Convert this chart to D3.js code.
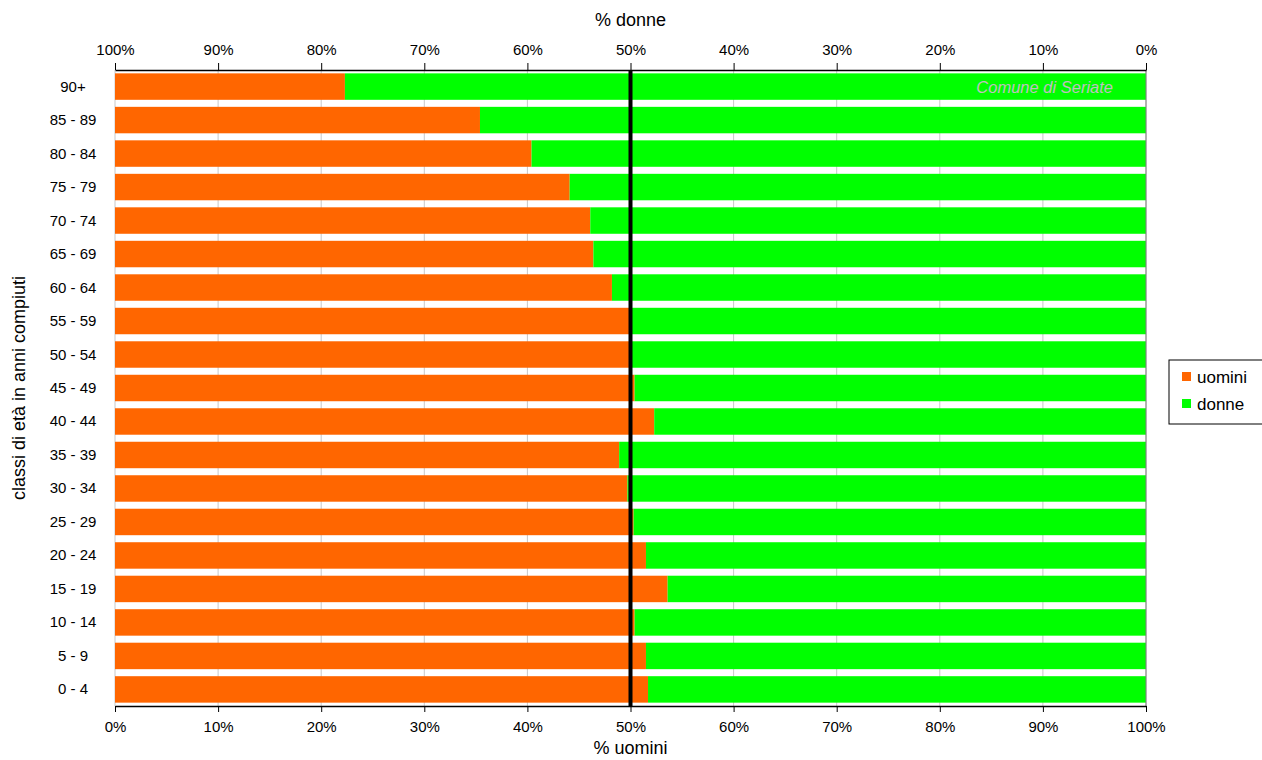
<!DOCTYPE html>
<html>
<head>
<meta charset="utf-8">
<script src="https://cdn.jsdelivr.net/npm/d3@7"></script>
<style>
  body { margin: 0; background: #fff; }
  text { font-family: "Liberation Sans", Arial, sans-serif; fill: #000; }
</style>
</head>
<body>
<div id="chart"></div>
<script>
// classi di età, dall'alto verso il basso
const classi = ["90+", "85 - 89", "80 - 84", "75 - 79", "70 - 74", "65 - 69", "60 - 64",
  "55 - 59", "50 - 54", "45 - 49", "40 - 44", "35 - 39", "30 - 34", "25 - 29",
  "20 - 24", "15 - 19", "10 - 14", "5 - 9", "0 - 4"];
// % uomini per classe (il resto sono donne)
const uomini = [22.3, 35.4, 40.4, 44.1, 46.1, 46.4, 48.2, 49.9, 49.9, 50.4,
  52.3, 48.9, 49.7, 50.3, 51.5, 53.6, 50.4, 51.5, 51.7];
const ticks = [0, 10, 20, 30, 40, 50, 60, 70, 80, 90, 100];
const serie = ["uomini", "donne"];
const colori = ["#ff6600", "#00ff00"];

const WIDTH = 1262, HEIGHT = 760;
const MARGIN = { TOP: 70, BOTTOM: 54, LEFT: 115, RIGHT: 116 };
const w = WIDTH - MARGIN.LEFT - MARGIN.RIGHT;
const h = HEIGHT - MARGIN.TOP - MARGIN.BOTTOM;

const svg = d3.select("#chart").append("svg")
  .attr("width", WIDTH).attr("height", HEIGHT);
const g = svg.append("g").attr("transform", `translate(${MARGIN.LEFT},${MARGIN.TOP})`);

const x = d3.scaleLinear().domain([0, 100]).range([0, w]);
const xTop = d3.scaleLinear().domain([100, 0]).range([0, w]);
const y = d3.scaleBand().domain(classi).range([0, h]).paddingInner(0.21).paddingOuter(0.1);

// griglia
g.append("g").selectAll("line").data(ticks).enter().append("line")
  .attr("x1", d => x(d)).attr("x2", d => x(d))
  .attr("y1", 0).attr("y2", h)
  .attr("stroke", "#c8c8c8").attr("stroke-width", 1);

const righe = classi.map((c, i) => ({ classe: c, u: uomini[i] }));

g.append("g").selectAll("rect.u").data(righe).enter().append("rect")
  .attr("x", 0).attr("y", d => y(d.classe))
  .attr("width", d => x(d.u)).attr("height", y.bandwidth())
  .attr("fill", colori[0]);

g.append("g").selectAll("rect.d").data(righe).enter().append("rect")
  .attr("x", d => x(d.u)).attr("y", d => y(d.classe))
  .attr("width", d => w - x(d.u)).attr("height", y.bandwidth())
  .attr("fill", colori[1]);

// bordo destro
g.append("line").attr("x1", w).attr("x2", w).attr("y1", 0).attr("y2", h)
  .attr("stroke", "#808080");

// linea 50%
g.append("line").attr("x1", x(50)).attr("x2", x(50)).attr("y1", 0).attr("y2", h)
  .attr("stroke", "#000").attr("stroke-width", 4);

g.append("text").attr("x", w - 33).attr("y", y("90+") + y.bandwidth() / 2 + 6)
  .attr("text-anchor", "end").style("font-style", "italic").style("font-size", "16.5px")
  .style("fill", "#c0c0c0").text("Comune di Seriate");

// assi
const fmt = d => d + "%";
const axB = g.append("g").attr("transform", `translate(0,${h})`)
  .call(d3.axisBottom(x).tickValues(ticks).tickFormat(fmt).tickSize(6).tickSizeOuter(0));
const axT = g.append("g")
  .call(d3.axisTop(xTop).tickValues(ticks).tickFormat(fmt).tickSize(7).tickSizeOuter(0));
[axB, axT].forEach(a => {
  a.selectAll("text").style("font-size", "15px").style("font-family", "Liberation Sans, Arial, sans-serif");
  a.select(".domain").attr("stroke", "#000").attr("stroke-width", 1.5);
});
axB.selectAll("text").attr("dy", "1.1em");
axT.selectAll("text").attr("dy", "-0.35em");

g.append("g").selectAll("text").data(classi).enter().append("text")
  .attr("x", 73 - MARGIN.LEFT).attr("y", d => y(d) + y.bandwidth() / 2 + 5)
  .attr("text-anchor", "middle").style("font-size", "15px").text(d => d);

// titoli
svg.append("text").attr("x", MARGIN.LEFT + x(50)).attr("y", 26)
  .attr("text-anchor", "middle").style("font-size", "18px").text("% donne");
svg.append("text").attr("x", MARGIN.LEFT + x(50)).attr("y", 754)
  .attr("text-anchor", "middle").style("font-size", "18px").text("% uomini");
svg.append("text").attr("transform", `translate(25,${MARGIN.TOP + h / 2}) rotate(-90)`)
  .attr("text-anchor", "middle").style("font-size", "18px").text("classi di età in anni compiuti");

// legenda
const leg = svg.append("g").attr("transform", "translate(1169,360)");
leg.append("rect").attr("width", 100).attr("height", 64)
  .attr("fill", "#fff").attr("stroke", "#000").attr("stroke-width", 1);
serie.forEach((s, i) => {
  leg.append("rect").attr("x", 13).attr("y", 12 + i * 27).attr("width", 9).attr("height", 9)
    .attr("fill", colori[i]);
  leg.append("text").attr("x", 28).attr("y", 23 + i * 27).style("font-size", "17px").text(s);
});
</script>
</body>
</html>
